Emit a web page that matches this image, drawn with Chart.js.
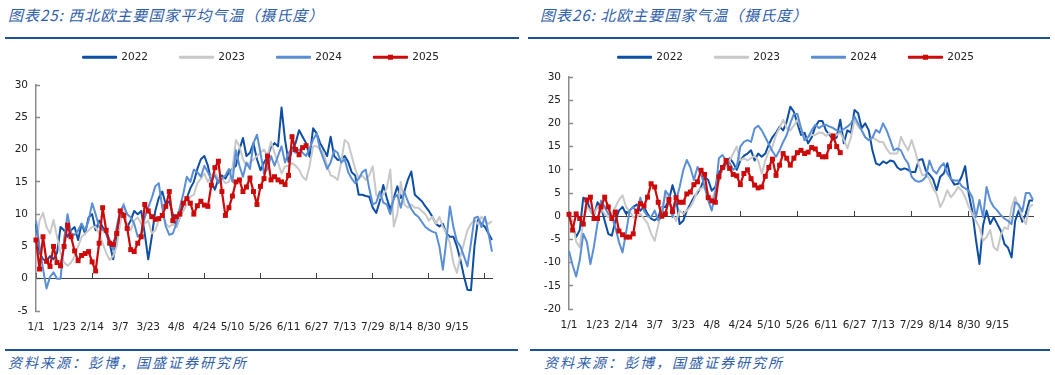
<!DOCTYPE html>
<html>
<head>
<meta charset="utf-8">
<script src="https://cdn.jsdelivr.net/npm/chart.js@4/dist/chart.umd.min.js"></script>
<style>
  body { margin: 0; width: 1055px; height: 375px; background: #fff; position: relative; overflow: hidden; }
  .title { position: absolute; top: 5px; line-height: 20px; font-family: "Noto Sans CJK SC"; font-size: 15px;
           font-style: italic; color: #2f5ea8; letter-spacing: 1px; white-space: nowrap; }
  .rule { position: absolute; height: 2px; background: #1f4e9a; }
  .src { position: absolute; top: 352px; line-height: 20px; font-family: "Noto Sans CJK SC"; font-size: 14px;
         font-style: italic; color: #2f5ea8; letter-spacing: 2px; white-space: nowrap; }
  .box { position: absolute; top: 20px; height: 321px; }
</style>
</head>
<body>
<div class="title" style="left:8px">图表25: 西北欧主要国家平均气温（摄氏度）</div>
<div class="title" style="left:540px">图表26: 北欧主要国家气温（摄氏度）</div>
<div class="rule" style="left:5px;width:514px;top:37px"></div>
<div class="rule" style="left:528px;width:522px;top:37px"></div>

<div class="box" style="left:0;width:527px"><canvas id="c1"></canvas></div>
<div class="box" style="left:527px;width:528px"><canvas id="c2"></canvas></div>

<div class="rule" style="left:5px;width:513px;top:349px"></div>
<div class="rule" style="left:530px;width:520px;top:349px"></div>
<div class="src" style="left:8px">资料来源：彭博，国盛证券研究所</div>
<div class="src" style="left:544px">资料来源：彭博，国盛证券研究所</div>

<script>
// 横轴：每 8 个点一个日期标签，每 16 个点一个刻度
const tickLabels = ['1/1', '1/23', '2/14', '3/7', '3/23', '4/8', '4/24', '5/10', '5/26',
  '6/11', '6/27', '7/13', '7/29', '8/14', '8/30', '9/15'];
const POINTS = 131;
const categories = [];
for (let i = 0; i < POINTS; i++) {
  categories.push(i % 8 === 0 && i / 8 < tickLabels.length ? tickLabels[i / 8] : '');
}

// 图表25 西北欧
const nw2022 = [8.5,4.0,3.0,2.8,3.5,3.0,4.0,8.0,7.5,6.5,
  7.5,8.0,6.0,8.5,7.0,9.5,10.0,7.5,9.0,8.0,
  7.0,5.5,3.0,6.0,9.5,10.2,8.0,9.0,10.5,10.0,
  10.5,7.0,3.0,6.5,10.5,12.5,13.5,11.5,12.0,10.0,
  8.0,9.5,11.5,12.5,14.0,15.0,17.0,18.5,19.0,17.5,
  15.0,13.8,15.5,16.0,15.5,16.5,17.0,17.5,20.0,21.8,
  19.0,19.5,21.0,18.5,16.8,18.0,18.9,20.4,21.0,20.5,
  26.5,21.5,18.1,20.0,21.0,23.0,22.0,21.0,18.9,23.3,
  22.5,21.0,20.0,19.0,22.0,19.0,18.4,18.5,19.0,18.1,
  16.5,16.0,13.0,13.0,12.8,12.7,11.0,10.2,12.0,14.5,
  12.5,10.7,12.5,14.3,12.5,13.5,15.3,16.6,13.0,12.5,
  12.0,11.2,10.5,9.6,8.5,8.1,8.5,7.0,6.5,6.5,
  5.0,2.9,0.4,-1.7,-1.8,5.0,9.1,8.5,8.0,7.0,6.0];
const nw2023 = [5.0,9.0,10.2,8.0,7.0,9.1,6.5,4.0,2.5,2.0,
  2.5,3.5,5.0,6.5,7.0,7.5,8.0,8.0,7.0,5.5,
  4.0,2.9,3.5,5.0,8.5,11.7,8.0,7.5,9.0,9.5,
  8.5,8.5,9.0,7.0,7.5,9.0,10.0,8.5,8.0,8.5,
  8.0,9.5,10.5,11.5,12.7,13.0,14.8,15.5,16.3,15.0,
  16.0,16.5,15.5,15.5,14.8,15.0,17.0,21.5,20.5,18.5,
  17.5,18.0,18.4,19.0,19.5,20.0,19.0,21.2,19.5,18.0,
  16.3,17.4,17.5,17.9,17.5,16.9,15.8,15.3,17.5,20.5,
  20.5,20.0,19.5,17.5,16.0,15.8,15.3,18.0,21.5,21.0,
  19.0,17.0,15.5,16.0,15.3,16.0,17.4,13.0,12.5,13.0,
  14.0,16.9,8.1,10.0,15.0,11.5,11.0,11.5,11.0,11.0,
  10.5,10.0,9.0,9.6,8.5,9.6,8.0,7.1,5.5,2.4,
  0.9,3.5,5.5,7.5,8.5,9.1,8.5,9.6,9.0,8.5,8.9];
const nw2024 = [9.0,5.0,1.5,-1.5,0.3,1.0,0.0,0.0,6.0,10.0,
  7.0,6.8,7.5,8.5,7.5,9.0,11.7,10.0,8.0,7.5,
  7.5,6.0,4.5,8.0,10.5,11.4,10.0,9.5,8.5,6.5,
  7.0,9.5,11.0,12.5,14.3,14.8,11.0,8.1,6.8,7.0,
  8.5,11.0,13.2,15.8,15.0,16.9,16.5,15.8,17.5,16.5,
  15.3,16.0,14.8,15.5,16.0,17.0,15.0,19.9,17.5,15.8,
  18.0,17.0,21.0,22.3,19.5,16.3,17.0,19.0,17.5,19.0,
  20.5,18.0,19.5,20.0,19.5,20.0,19.5,19.0,20.2,21.5,
  22.5,20.0,18.5,17.0,18.0,19.9,19.5,18.0,18.5,16.5,
  15.5,14.8,15.5,16.5,16.9,14.0,11.5,11.8,13.5,11.8,
  11.5,10.0,12.5,13.0,11.0,13.5,12.0,10.8,10.0,9.6,
  8.8,8.0,7.6,7.3,7.1,5.0,1.4,6.0,11.2,8.0,
  5.8,5.0,3.5,1.9,5.5,9.4,9.6,8.0,9.6,7.0,4.2];
const nw2025 = [6.0,1.5,6.5,2.7,1.9,5.0,2.5,2.0,5.0,8.3,
  6.5,4.3,2.8,3.6,3.9,4.2,2.6,1.2,5.5,11.0,
  7.5,5.5,5.3,7.0,10.5,9.8,7.8,4.5,4.2,5.5,
  6.5,11.5,10.5,9.6,9.2,9.3,9.8,11.2,13.5,9.0,
  9.6,10.0,11.7,12.4,11.7,10.0,11.3,12.0,11.4,11.2,
  14.5,17.2,18.2,13.5,9.8,11.0,12.8,15.0,15.3,13.5,
  14.2,15.6,13.5,11.5,14.3,15.5,19.0,15.3,15.8,15.3,
  15.0,14.6,16.0,22.0,20.0,19.2,20.3,20.6];

// 图表26 北欧
const n2022 = [0.0,-2.0,-4.5,-3.0,4.0,3.5,1.2,0.2,3.0,2.0,
  -1.0,-3.8,-4.2,-1.0,1.2,2.0,0.5,1.2,2.0,2.5,
  1.2,2.0,0.5,-0.5,-0.9,-0.2,2.0,2.0,3.5,6.7,
  4.0,-1.7,-1.0,1.2,2.6,4.1,5.0,6.3,8.5,7.8,
  5.5,6.3,9.5,10.3,11.0,12.5,11.5,10.0,12.0,13.0,
  13.5,14.2,12.0,13.5,12.8,13.5,15.5,17.0,18.0,19.3,
  18.5,20.4,23.6,22.5,20.0,17.5,18.0,15.7,17.0,19.3,
  20.5,20.5,18.5,17.5,16.5,17.0,20.8,15.7,18.5,18.0,
  22.9,22.2,19.0,20.0,18.5,14.2,11.4,11.0,11.8,11.4,
  12.0,11.8,10.5,10.0,10.3,10.0,9.5,9.5,12.1,12.3,
  9.8,9.0,8.0,5.6,8.5,9.2,11.4,8.0,6.8,7.0,
  8.5,10.8,4.8,1.0,-5.0,-10.3,-2.0,1.2,-1.7,-0.2,
  -1.7,-3.2,-6.0,-6.8,-8.9,-1.0,1.2,-1.2,0.5,3.4,3.4];
const n2023 = [0.5,-1.0,-5.5,-6.7,-1.0,2.0,1.2,0.5,2.0,1.5,
  0.5,-0.2,0.5,2.0,3.5,4.5,2.0,1.0,-0.2,-0.2,
  0.5,-0.5,-1.5,-3.8,-5.3,-2.0,1.5,4.8,3.5,0.5,
  -1.0,1.2,0.5,1.2,2.0,3.5,5.5,6.0,6.3,5.0,
  3.5,5.5,7.5,10.0,10.5,12.0,13.5,15.0,12.0,12.5,
  12.0,12.5,13.0,12.0,9.2,12.0,14.0,15.0,17.5,19.0,
  20.8,19.0,18.5,19.5,20.8,19.0,16.4,17.0,17.5,17.5,
  18.0,18.0,17.3,18.0,17.0,17.5,18.0,16.5,14.6,17.0,
  20.8,19.3,18.5,17.0,16.4,17.0,16.5,16.0,16.0,14.5,
  13.5,13.5,13.5,17.1,15.5,14.2,16.4,14.0,11.0,8.8,
  9.0,8.0,6.0,4.8,2.0,3.5,5.6,4.1,5.0,6.3,
  5.6,4.1,2.0,0.5,-1.0,-2.4,-5.3,-4.5,-3.0,-6.7,
  -7.4,-4.0,-2.4,-2.8,1.9,4.1,2.0,-0.2,-1.7,2.0,2.5];
const n2024 = [-7.5,-10.5,-13.0,-9.5,-3.8,-5.5,-10.3,-6.5,-1.5,3.4,
  2.0,0.5,-0.2,-2.4,-5.6,-7.8,-3.5,1.2,2.0,1.0,
  4.0,1.2,0.0,-0.2,1.2,-0.9,-0.2,5.5,4.5,-0.2,
  3.4,6.3,9.9,12.1,10.5,7.8,10.6,9.2,6.3,3.4,
  1.2,5.0,12.5,13.2,12.0,11.5,10.0,10.6,15.0,16.0,
  16.4,16.0,18.9,19.5,18.5,17.0,15.5,14.0,12.8,14.2,
  16.0,17.5,20.0,22.0,22.0,19.0,16.4,17.0,18.5,19.7,
  19.0,19.5,19.7,19.3,19.0,18.5,18.2,18.8,19.3,20.0,
  21.5,20.0,18.5,17.0,16.4,16.9,18.6,18.0,20.0,18.5,
  16.4,14.2,14.6,14.2,12.5,11.4,8.5,7.7,7.4,7.7,
  8.5,12.0,9.9,9.2,10.6,11.4,9.2,8.0,7.7,7.7,
  6.5,6.0,5.5,4.1,-0.2,3.5,-0.2,6.3,3.4,2.0,
  1.2,0.2,-0.5,-1.0,-1.7,3.0,2.5,1.0,5.0,5.0,3.5];
const n2025 = [0.4,-3.0,0.5,-0.5,-1.7,3.5,4.1,-0.5,-0.5,2.0,
  4.1,2.0,-0.5,0.9,-3.2,-4.0,-4.5,-4.5,-3.8,1.0,
  2.7,2.2,4.1,7.0,6.3,3.0,0.0,0.5,3.6,1.0,
  4.0,3.0,3.0,4.8,5.2,6.8,7.4,9.9,9.0,4.0,
  3.3,3.0,8.5,10.5,12.0,10.3,9.0,8.7,6.8,9.2,
  10.0,8.1,6.7,6.1,6.3,8.6,10.5,12.3,8.8,11.0,
  13.5,12.5,11.0,12.5,13.7,14.2,13.5,13.8,14.8,14.5,
  13.3,12.8,12.8,15.0,17.3,15.0,13.7];

const C2022 = '#0e4ea4', C2023 = '#c8c8c8', C2024 = '#5b8fd5', C2025 = '#cc0a0a';
const TEXT = '#222', AXIS = '#404040', YAXIS = '#8c8c8c';
const FONT = { family: 'DejaVu Sans', size: 10.5 };
const BOX_W = 33;

// 图例高度固定、水平微调，2025 图例中间画方块
const legendTweak = {
  id: 'legendTweak',
  afterInit(chart, args, opts) {
    const lg = chart.legend;
    const fit = lg.fit;
    lg.fit = function () { fit.call(this); this.height = opts.height; };
  },
  afterLayout(chart, args, opts) {
    chart.legend.left += opts.shift;
    chart.legend.right += opts.shift;
  },
  afterDraw(chart) {
    const lg = chart.legend, ctx = chart.ctx;
    lg.legendItems.forEach((item, i) => {
      const ds = chart.data.datasets[item.datasetIndex];
      if (!ds.pointRadius) return;
      const hb = lg.legendHitBoxes[i];
      ctx.save();
      ctx.fillStyle = ds.borderColor;
      ctx.fillRect(hb.left + BOX_W / 2 - 2.5, hb.top + FONT.size / 2 - 2.5, 5, 5);
      ctx.restore();
    });
  }
};

function line(label, data, color, order) {
  return { label, data, borderColor: color, backgroundColor: color, borderWidth: 2,
    pointRadius: 0, tension: 0, borderJoinStyle: 'round', order, xAxisID: 'x' };
}

function buildChart(id, s, opt) {
  new Chart(document.getElementById(id), {
    type: 'line',
    data: {
      labels: categories,
      datasets: [
        line('2022', s[0], C2022, 3),
        line('2023', s[1], C2023, 2),
        line('2024', s[2], C2024, 1),
        { label: '2025', data: s[3], borderColor: C2025, backgroundColor: C2025, borderWidth: 2.2,
          pointStyle: 'rect', pointRadius: 3.5, pointBackgroundColor: C2025, pointBorderWidth: 0,
          tension: 0, borderJoinStyle: 'round', order: 0, xAxisID: 'x' }
      ]
    },
    options: {
      responsive: true, maintainAspectRatio: false, animation: false,
      events: [],
      layout: { autoPadding: false, padding: { left: 0, right: opt.padR, top: 0, bottom: opt.padB } },
      plugins: {
        tooltip: { enabled: false },
        legend: {
          labels: { boxWidth: BOX_W, boxHeight: 1, padding: 32, color: TEXT, font: FONT,
            sort: (a, b) => a.datasetIndex - b.datasetIndex }
        },
        legendTweak: { height: opt.legendH, shift: opt.shift }
      },
      scales: {
        x: {
          type: 'category', position: 'bottom',
          grid: { display: false, drawTicks: false },
          border: { display: false },
          ticks: { autoSkip: false, maxRotation: 0, minRotation: 0, padding: 10, color: TEXT, font: FONT },
          afterFit: sc => { sc.height = 30; }
        },
        x0: {
          type: 'category', axis: 'x', position: { y: 0 },
          ticks: { display: false, autoSkip: false },
          grid: { display: true, drawOnChartArea: false, drawTicks: true, tickLength: -6, tickWidth: 1,
            tickColor: c => (c.index % 16 === 0 ? AXIS : 'rgba(0,0,0,0)') },
          border: { display: true, color: AXIS, width: 1 },
          afterFit: sc => { sc.height = 0; }
        },
        y: {
          position: 'left', min: opt.yMin, max: opt.yMax,
          ticks: { stepSize: 5, padding: 12, color: TEXT, font: FONT },
          grid: { display: true, drawOnChartArea: false, drawTicks: true, tickLength: -4,
            tickColor: YAXIS, tickWidth: 1.5 },
          border: { color: YAXIS, width: 1.5 },
          afterFit: sc => { sc.width = opt.yW; }
        }
      }
    },
    plugins: [legendTweak]
  });
}

buildChart('c1', [nw2022, nw2023, nw2024, nw2025],
  { yMin: -5, yMax: 30, yW: 36, padR: 35, padB: 0, legendH: 65, shift: 15 });
buildChart('c2', [n2022, n2023, n2024, n2025],
  { yMin: -20, yMax: 30, yW: 42, padR: 22, padB: 2, legendH: 57, shift: 16 });
</script>
</body>
</html>
